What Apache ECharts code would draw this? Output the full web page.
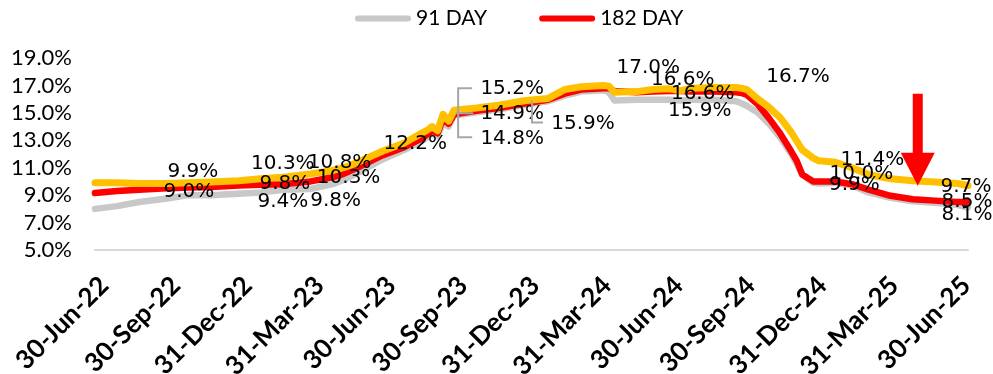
<!DOCTYPE html>
<html>
<head>
<meta charset="utf-8">
<script src="https://cdn.jsdelivr.net/npm/echarts@6/dist/echarts.min.js"></script>
<style>
  html, body { margin: 0; padding: 0; background: #fff; }
  #chart { width: 993px; height: 374px; }
</style>
</head>
<body>
<div id="chart"></div>
<script>
// Quarter-end tick labels (one every 13 weeks from 30-Jun-22)
const tickLabels = ['30-Jun-22', '30-Sep-22', '31-Dec-22', '31-Mar-23', '30-Jun-23', '30-Sep-23',
  '31-Dec-23', '31-Mar-24', '30-Jun-24', '30-Sep-24', '31-Dec-24', '31-Mar-25', '30-Jun-25'];

// Weeks elapsed since 30-Jun-22 for each auction observation
const weeks = [0, 4, 8, 13, 17, 21, 26, 30, 34, 39,
  43, 45, 47, 52, 56, 59, 60, 61, 62, 63,
  64, 65, 69, 73, 78, 82, 85, 88, 92, 93,
  94, 98, 101, 104, 106, 108, 112, 116, 117, 118,
  120, 122, 124, 126, 127, 128, 130, 131, 134, 137,
  140, 144, 148, 152, 156, 158];

// T-bill yields (%)
const day91 = [8.0, 8.2, 8.5, 8.75, 9.0, 9.0, 9.1, 9.2, 9.4, 9.45,
  9.8, 10.1, 10.5, 11.6, 12.3, 12.9, 13.2, 13.5, 13.3, 14.3,
  14.0, 14.8, 15.05, 15.25, 15.6, 15.85, 16.25, 16.55, 16.65, 16.5,
  15.9, 15.95, 15.95, 15.95, 15.9, 15.95, 15.95, 15.85, 15.7, 15.5,
  15.0, 14.2, 13.2, 12.0, 11.3, 10.5, 9.9, 9.85, 9.9, 9.7,
  9.2, 8.8, 8.55, 8.45, 8.3, 8.1];

const day182 = [9.15, 9.3, 9.4, 9.5, 9.55, 9.6, 9.7, 9.75, 9.8, 10.0,
  10.3, 10.55, 10.9, 11.9, 12.5, 13.1, 13.4, 13.7, 13.5, 14.6,
  14.2, 14.9, 15.15, 15.35, 15.7, 15.95, 16.4, 16.7, 16.8, 16.8,
  16.6, 16.5, 16.55, 16.6, 16.6, 16.55, 16.55, 16.5, 16.45, 16.3,
  15.6, 14.6, 13.5, 12.2, 11.5, 10.5, 10.0, 10.0, 10.0, 9.8,
  9.4, 8.95, 8.7, 8.6, 8.5, 8.5];

const day364 = [9.9, 9.9, 9.85, 9.85, 9.9, 9.95, 10.05, 10.2, 10.3, 10.55,
  10.8, 11.0, 11.3, 12.2, 12.8, 13.5, 13.7, 14.0, 13.7, 14.9,
  14.4, 15.2, 15.35, 15.55, 15.9, 16.05, 16.7, 16.9, 17.0, 16.95,
  16.5, 16.55, 16.7, 16.75, 16.6, 16.8, 16.85, 16.85, 16.8, 16.7,
  16.0, 15.4, 14.65, 13.6, 12.95, 12.3, 11.7, 11.5, 11.4, 11.0,
  10.5, 10.2, 10.05, 9.95, 9.85, 9.7];

// Which observations carry a value label, and where the text sits relative to the point
const labelPlacement = {
  grey:   { 17: [0, -3], 34: [0, 12], 43: [3, 17], 65: [58, 23], 106: [19, 10], 134: [19, 2], 158: [-1, 7] },
  red:    { 34: [2, 0], 43: [16, 0], 65: [58, 0], 106: [22, 3], 134: [26, -8], 158: [-1, 0] },
  orange: { 17: [4, -11], 34: [0, -14], 43: [7, -8], 52: [33, -7], 65: [58, -21], 78: [57, 23],
            92: [45, -18], 106: [2, -11], 118: [51, -13], 134: [37, -2], 158: [-2, 1] }
};

const pct = v => v.toFixed(1) + '%';

function buildData(values, placement) {
  return weeks.map((w, i) => {
    const off = placement[w];
    if (!off) return [w, values[i]];
    return {
      value: [w, values[i]],
      label: { show: true, position: 'inside', offset: off }
    };
  });
}

function lineSeries(name, values, color, width, placement) {
  return {
    name: name,
    type: 'line',
    data: buildData(values, placement),
    symbol: 'circle',
    symbolSize: 0,
    showSymbol: true,
    lineStyle: { color: color, width: width, cap: 'round', join: 'round' },
    itemStyle: { color: color },
    label: {
      show: false,
      formatter: p => pct(p.value[1]),
      fontFamily: 'DejaVu Sans',
      fontSize: 20,
      color: '#000'
    },
    emphasis: { disabled: true },
    z: 2
  };
}

const chart = echarts.init(document.getElementById('chart'), null, { renderer: 'canvas' });

chart.setOption({
  animation: false,
  backgroundColor: '#fff',
  legend: {
    data: ['91 DAY', '182 DAY'],
    left: 350,
    top: 3,
    itemWidth: 56,
    itemHeight: 6,
    itemGap: 52,
    icon: 'path://M3,0 H53 A3,3 0 0 1 53,6 H3 A3,3 0 0 1 3,0 Z',
    textStyle: { fontFamily: 'Lato', fontSize: 21, color: '#000' }
  },
  grid: { left: 95, right: 25, top: 58, bottom: 124, outerBoundsMode: 'none', containLabel: false },
  xAxis: {
    type: 'value',
    min: 0,
    max: 158,
    interval: 13,
    axisLine: { show: true, lineStyle: { color: '#d9d9d9', width: 2 } },
    axisTick: { show: false },
    splitLine: { show: false },
    axisLabel: {
      rotate: 45,
      align: 'right',
      verticalAlign: 'top',
      margin: 22,
      fontFamily: 'Lato',
      fontWeight: 'bold',
      fontSize: 26,
      color: '#000',
      showMaxLabel: false,
      formatter: v => (v % 13 === 0 && tickLabels[v / 13]) ? tickLabels[v / 13] : ''
    }
  },
  yAxis: {
    type: 'value',
    min: 5,
    max: 19,
    interval: 2,
    axisLine: { show: false },
    axisTick: { show: false },
    splitLine: { show: false },
    axisLabel: {
      margin: 23,
      fontFamily: 'Lato',
      fontSize: 22,
      color: '#000',
      formatter: v => pct(v)
    }
  },
  series: [
    lineSeries('91 DAY', day91, '#c8c8c8', 6.5, labelPlacement.grey),
    lineSeries('182 DAY', day182, '#ff0000', 6.5, labelPlacement.red),
    lineSeries('364 DAY', day364, '#ffc000', 7, labelPlacement.orange)
  ]
});

// Leader lines and the call-out arrow, anchored on data points
const px = (w, v) => chart.convertToPixel({ xAxisIndex: 0, yAxisIndex: 0 }, [w, v]);
const idx = w => weeks.indexOf(w);
const leader = { stroke: '#a6a6a6', lineWidth: 2, fill: null };

const b = px(65, day182[idx(65)]);      // bracket beside the Sep-23 triple label
const l = px(78, day364[idx(78)]);      // leader to the 15.9% label
const a = px(148, day364[idx(148)]);    // arrow pointing at the latest 364-day level

chart.setOption({
  graphic: [
    { type: 'polyline', silent: true, z: 10,
      shape: { points: [[b[0] + 18, b[1] - 26], [b[0] + 4, b[1] - 26], [b[0] + 4, b[1] + 23], [b[0] + 18, b[1] + 23]] },
      style: leader },
    { type: 'line', silent: true, z: 10,
      shape: { x1: b[0] + 2, y1: b[1] - 1, x2: b[0] + 19, y2: b[1] - 1 },
      style: leader },
    { type: 'polyline', silent: true, z: 10,
      shape: { points: [[l[0] + 6, l[1]], [l[0] + 6, l[1] + 22], [l[0] + 17, l[1] + 22]] },
      style: leader },
    { type: 'polygon', silent: true, z: 20,
      shape: { points: [
        [a[0] + 0, a[1] - 87], [a[0] + 10, a[1] - 87], [a[0] + 10, a[1] - 28],
        [a[0] + 22, a[1] - 28], [a[0] + 5, a[1] + 5], [a[0] - 12, a[1] - 28], [a[0] + 0, a[1] - 28]
      ] },
      style: { fill: '#ff0000' } }
  ]
});
</script>
</body>
</html>
